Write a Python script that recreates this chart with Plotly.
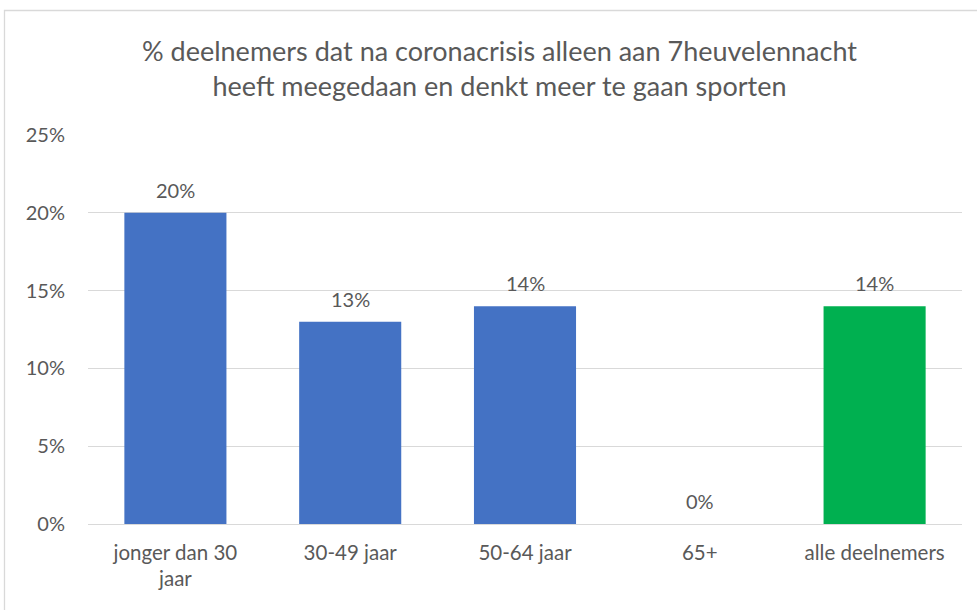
import plotly.graph_objects as go

categories = ["jonger dan 30<br>jaar", "30-49 jaar", "50-64 jaar", "65+", "alle deelnemers"]
values = [0.20, 0.13, 0.14, 0.0, 0.14]
labels = ["20%", "13%", "14%", "0%", "14%"]
colors = ["#4472C4", "#4472C4", "#4472C4", "#4472C4", "#00B050"]
tick_vals = [0, 0.05, 0.10, 0.15, 0.20, 0.25]
tick_text = ["0%", "5%", "10%", "15%", "20%", "25%"]
title = "% deelnemers dat na coronacrisis alleen aan 7heuvelennacht<br>heeft meegedaan en denkt meer te gaan sporten"

FONT = "Lato, Open Sans, sans-serif"
GRAY = "#595959"

fig = go.Figure(go.Bar(
    x=categories, y=values, marker_color=colors, marker_line_width=0,
    width=0.584, hoverinfo="x+y",
))

for c, v, t in zip(categories, values, labels):
    fig.add_annotation(x=c, y=v, text=t, showarrow=False, yanchor="bottom", yshift=9,
                       font=dict(family=FONT, size=20, color=GRAY))

fig.update_layout(
    width=977, height=610,
    margin=dict(l=88, r=15, t=135, b=86),
    paper_bgcolor="white", plot_bgcolor="white",
    title=dict(text=title, x=499.5 / 977, xanchor="center", y=1 - 61 / 610, yanchor="middle",
               font=dict(family=FONT, size=27, color=GRAY)),
    showlegend=False,
    xaxis=dict(tickfont=dict(family=FONT, size=20.5, color=GRAY), showline=False, ticks="",
               ticklabelstandoff=14),
    yaxis=dict(range=[0, 0.25], tickvals=tick_vals, ticktext=tick_text,
               tickfont=dict(family=FONT, size=20, color=GRAY),
               showgrid=True, gridcolor="#D9D9D9", gridwidth=1.3, zeroline=True, zerolinecolor="#D9D9D9",
               zerolinewidth=1.3, ticks="", ticklabelstandoff=22),
    bargap=0.416,
)
fig.add_shape(type="rect", xref="paper", yref="paper",
              x0=(4.5 - 88) / 874, x1=(990 - 88) / 874, y0=(524 - 620) / 389, y1=(524 - 10.5) / 389,
              line=dict(color="#D9D9D9", width=1.3), fillcolor="rgba(0,0,0,0)", layer="below")

fig.write_html("out.html", config={"displayModeBar": False},
               post_script="document.body.style.margin='0';document.body.style.overflow='hidden';")
